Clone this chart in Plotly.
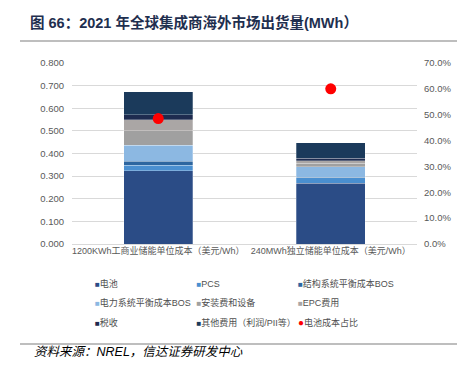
import plotly.graph_objects as go

categories = ["1200KWh工商业储能单位成本（美元/Wh）", "240MWh独立储能单位成本（美元/Wh）"]
series_names = ["电池", "PCS", "结构系统平衡成本BOS", "电力系统平衡成本BOS",
                "安装费和设备", "EPC费用", "税收", "其他费用（利润/PII等）"]
battery = [0.324, 0.268]
pcs = [0.025, 0.024]
structural_bos = [0.017, 0.004]
electrical_bos = [0.070, 0.046]
install_equip = [0.065, 0.016]
epc = [0.048, 0.010]
tax = [0.023, 0.012]
other = [0.100, 0.068]
share_name = "电池成本占比"
battery_share = [0.485, 0.600]

series_values = [battery, pcs, structural_bos, electrical_bos, install_equip, epc, tax, other]
colors = ["#2b4c86", "#4a8fd0", "#2d66a0", "#8cb8e2", "#a0a0a0", "#aaa6a5", "#1e2b4f", "#1b3a5b"]

W, H = 464, 375
L, R, T, B = 72, 417, 63, 244
def px(x):
    return (x - L) / (R - L)
def py(y):
    return (B - y) / (B - T)

fig = go.Figure()
for name, vals, c in zip(series_names, series_values, colors):
    fig.add_trace(go.Bar(x=categories, y=vals, name=name, marker_color=c,
                         marker_line=dict(color="rgba(255,255,255,0.45)", width=0.6),
                         width=0.4, showlegend=False))
fig.add_trace(go.Scatter(x=categories, y=battery_share, yaxis="y2", mode="markers",
                         marker=dict(color="#ff0000", size=11), name=share_name,
                         showlegend=False))

# legend entries (three rows); a blank 4th entry per row keeps the last column unclipped
legend_ids = ["legend", "legend2", "legend3"]
entries = list(zip(series_names, colors)) + [(share_name, "#ff0000")]
for i, (name, c) in enumerate(entries):
    glyph = "●" if name == share_name else "■"
    fs = 10 if name == share_name else 8
    label = f'<span style="color:{c};font-size:{fs}px">{glyph}</span>{name}'
    fig.add_trace(go.Scatter(x=[None], y=[None], mode="markers",
                             marker=dict(color="rgba(0,0,0,0)", opacity=0, size=1), name=label,
                             legend=legend_ids[i // 3], showlegend=True))
    if i % 3 == 2:
        fig.add_trace(go.Scatter(x=[None], y=[None], mode="markers",
                                 marker=dict(color="rgba(0,0,0,0)", opacity=0, size=1), name=" ",
                                 legend=legend_ids[i // 3], showlegend=True))

row_y = [283, 302, 322]
leg_common = dict(orientation="h", xref="paper", yref="paper",
                  x=px(55), xanchor="left", yanchor="middle", traceorder="normal",
                  font=dict(size=9, color="#505050", family="Liberation Sans, Noto Sans CJK SC"),
                  entrywidth=56.5, entrywidthmode="pixels", bgcolor="rgba(0,0,0,0)",
                  itemclick=False, tracegroupgap=0)

fig.update_layout(
    width=W, height=H,
    margin=dict(l=L, r=W - R, t=T, b=H - B, autoexpand=False),
    paper_bgcolor="white", plot_bgcolor="white",
    barmode="stack",
    font=dict(family="Liberation Sans, Noto Sans CJK SC", color="#595959"),
    xaxis=dict(tickfont=dict(size=9, color="#595959"), showgrid=False, showline=False,
               ticks=""),
    yaxis=dict(range=[0, 0.8], dtick=0.1, tickformat=".3f", showgrid=True,
               gridcolor="#d9d9d9", gridwidth=1, zeroline=True, zerolinecolor="#d9d9d9",
               zerolinewidth=1, tickfont=dict(size=9.5, color="#595959"),
               ticklabelstandoff=7, showline=False),
    yaxis2=dict(range=[0, 0.7], dtick=0.1, tickformat=".1%", overlaying="y", side="right",
                showgrid=False, zeroline=False, tickfont=dict(size=9.5, color="#595959"),
                ticklabelstandoff=6, showline=False),
    legend=dict(**leg_common, y=py(row_y[0])),
    legend2=dict(**leg_common, y=py(row_y[1])),
    legend3=dict(**leg_common, y=py(row_y[2])),
    shapes=[
        dict(type="line", xref="paper", yref="paper", x0=px(20), x1=px(457),
             y0=py(41), y1=py(41), line=dict(color="#7f7f7f", width=1.2)),
        dict(type="line", xref="paper", yref="paper", x0=px(20), x1=px(457),
             y0=py(344), y1=py(344), line=dict(color="#7f7f7f", width=1.2)),
    ],
    annotations=[
        dict(text="<b>图 66：2021 年全球集成商海外市场出货量(MWh）</b>", xref="paper", yref="paper",
             x=px(28), y=py(23), xanchor="left", yanchor="middle", showarrow=False,
             font=dict(size=14.5, color="#1f2f4f", family="Liberation Sans, Noto Sans CJK SC")),
        dict(text="<i>资料来源：NREL，信达证券研发中心</i>", xref="paper", yref="paper",
             x=px(32), y=py(352), xanchor="left", yanchor="middle", showarrow=False,
             font=dict(size=12.5, color="#000000", family="Liberation Sans, Noto Sans CJK SC")),
    ],
)

fig.write_html("out.html", config={"displayModeBar": False},
               post_script="document.body.style.margin='0';")
